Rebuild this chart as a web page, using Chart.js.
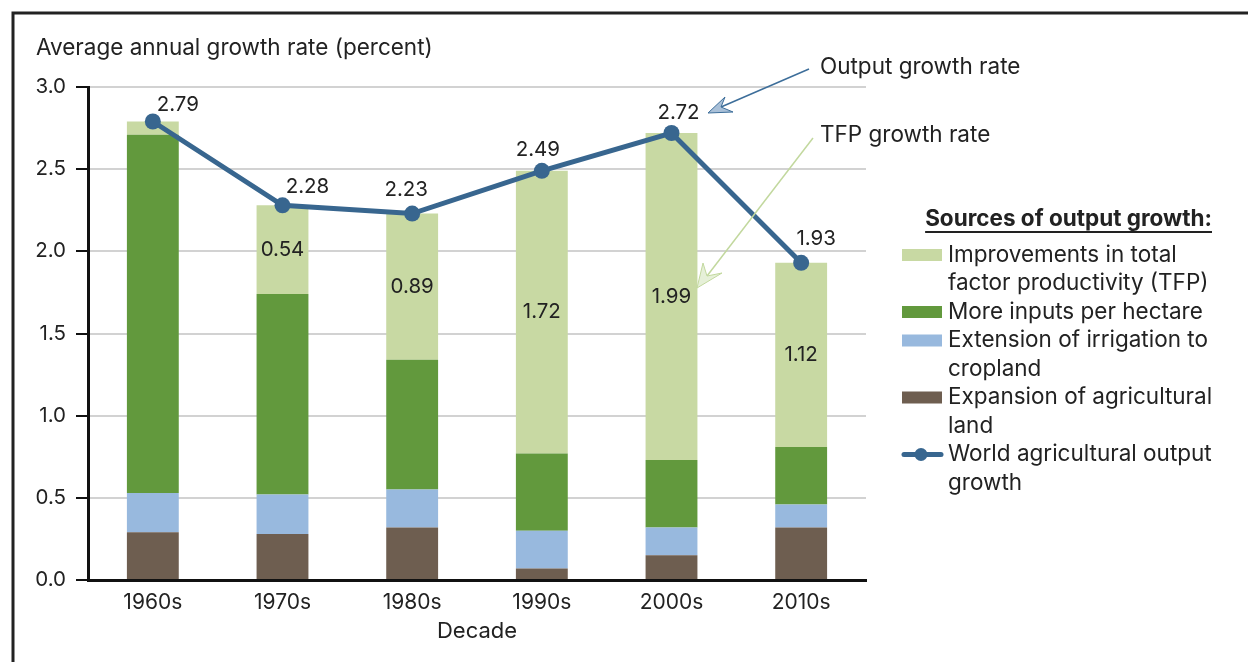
<!DOCTYPE html>
<html>
<head>
<meta charset="utf-8">
<script src="https://cdn.jsdelivr.net/npm/chart.js@4.4.0/dist/chart.umd.min.js"></script>
<style>
  html, body { margin: 0; padding: 0; background: #fff; }
  #wrap { width: 1248px; height: 662px; position: relative; }
</style>
</head>
<body>
<div id="wrap"><canvas id="growth"></canvas></div>
<script>
// values (percent per year)
const decades = ['1960s', '1970s', '1980s', '1990s', '2000s', '2010s'];
const landExpansion = [0.29, 0.28, 0.32, 0.07, 0.15, 0.32];
const irrigation = [0.24, 0.24, 0.23, 0.23, 0.17, 0.14];
const moreInputs = [2.18, 1.22, 0.79, 0.47, 0.41, 0.35];
const tfpGrowth = [0.08, 0.54, 0.89, 1.72, 1.99, 1.12];
const outputGrowth = [2.79, 2.28, 2.23, 2.49, 2.72, 1.93];
const yTicks = [0, 0.5, 1.0, 1.5, 2.0, 2.5, 3.0];

const legendTitle = 'Sources of output growth:';
const legendLabels = [
  ['Improvements in total', 'factor productivity (TFP)'],
  ['More inputs per hectare'],
  ['Extension of irrigation to', 'cropland'],
  ['Expansion of agricultural', 'land'],
  ['World agricultural output', 'growth']
];

const FONT = 'Inter, "Noto Sans", "DejaVu Sans", sans-serif';
const TXT = '#222';
const colTfp = '#c8d9a3';
const colInputs = '#62993d';
const colIrr = '#98b9de';
const colLand = '#6e5e50';
const colLine = '#38668f';

Chart.defaults.font.family = FONT;
Chart.defaults.font.size = 20;
Chart.defaults.color = TXT;

//==============================================================
// frame, titles, legend, arrows and value labels
const extras = {
  id: 'extras',
  beforeDraw(chart) {
    const ctx = chart.ctx;
    ctx.save();
    ctx.strokeStyle = '#222';
    ctx.lineWidth = 3;
    ctx.beginPath();
    ctx.moveTo(13, 662);
    ctx.lineTo(13, 13);
    ctx.lineTo(1248, 13);
    ctx.stroke();
    ctx.restore();
  },
  afterDraw(chart) {
    const ctx = chart.ctx;
    const area = chart.chartArea;
    ctx.save();
    ctx.fillStyle = TXT;
    ctx.textBaseline = 'middle';

    // axis titles
    ctx.font = '22.5px ' + FONT;
    ctx.textAlign = 'left';
    ctx.fillText('Average annual growth rate (percent)', 36, 48);
    ctx.textAlign = 'center';
    ctx.font = '22px ' + FONT;
    ctx.fillText('Decade', (area.left + area.right) / 2, 631);

    // TFP labels inside the light-green segments
    ctx.font = '20.5px ' + FONT;
    const tfpMeta = chart.getDatasetMeta(3);
    tfpMeta.data.forEach((el, i) => {
      if (tfpGrowth[i] < 0.2) return;
      ctx.fillText(tfpGrowth[i].toFixed(2), el.x, (el.y + el.base) / 2);
    });

    // output labels above the line points
    const shiftX = [25, 25, -6, -4, 7, 15];
    const shiftY = [-17, -18, -24, -21, -20, -24];
    const lineMeta = chart.getDatasetMeta(4);
    lineMeta.data.forEach((pt, i) => {
      ctx.fillText(outputGrowth[i].toFixed(2), pt.x + shiftX[i], pt.y + shiftY[i]);
    });

    // annotations
    ctx.font = '22.5px ' + FONT;
    ctx.textAlign = 'left';
    ctx.fillText('Output growth rate', 820, 67);
    ctx.fillText('TFP growth rate', 820, 135);

    function arrow(x0, y0, tip, b1, notch, b2, line, fill) {
      ctx.strokeStyle = line;
      ctx.lineWidth = 1.5;
      ctx.beginPath();
      ctx.moveTo(x0, y0);
      ctx.lineTo(notch[0], notch[1]);
      ctx.stroke();
      ctx.beginPath();
      ctx.moveTo(tip[0], tip[1]);
      ctx.lineTo(b1[0], b1[1]);
      ctx.lineTo(notch[0], notch[1]);
      ctx.lineTo(b2[0], b2[1]);
      ctx.closePath();
      ctx.fillStyle = fill;
      ctx.fill();
      ctx.lineWidth = 1;
      ctx.stroke();
    }
    arrow(809, 69, [708, 113], [725, 97], [721, 107], [733, 112], '#3d6e9a', '#a9c0d8');
    arrow(813, 138, [697, 288], [703, 263], [707, 276], [722, 273], '#c2d89e', '#e6f0d8');

    // legend
    ctx.fillStyle = TXT;
    ctx.font = 'bold 22.5px ' + FONT;
    ctx.textAlign = 'right';
    ctx.fillText(legendTitle, 1212, 219);
    const tw = ctx.measureText(legendTitle).width;
    ctx.fillRect(1212 - tw, 231, tw, 2);

    ctx.font = '22.5px ' + FONT;
    ctx.textAlign = 'left';
    const swatches = [colTfp, colInputs, colIrr, colLand, null];
    let y = 255;
    legendLabels.forEach((lines, k) => {
      if (swatches[k]) {
        ctx.fillStyle = swatches[k];
        ctx.fillRect(902, y - 6, 40, 12);
      } else {
        ctx.strokeStyle = colLine;
        ctx.lineWidth = 5;
        ctx.lineCap = 'round';
        ctx.beginPath();
        ctx.moveTo(904, y);
        ctx.lineTo(941, y);
        ctx.stroke();
        ctx.fillStyle = colLine;
        ctx.beginPath();
        ctx.arc(921, y, 6.5, 0, Math.PI * 2);
        ctx.fill();
      }
      ctx.fillStyle = TXT;
      lines.forEach((t) => {
        ctx.fillText(t, 948, y);
        y += 28.5;
      });
    });
    ctx.restore();
  }
};
//==============================================================

const barBase = { type: 'bar', stack: 'sources', order: 1, borderWidth: 0 };

new Chart(document.getElementById('growth'), {
  type: 'bar',
  data: {
    labels: decades,
    datasets: [
      Object.assign({ label: 'Expansion of agricultural land', data: landExpansion, backgroundColor: colLand }, barBase),
      Object.assign({ label: 'Extension of irrigation to cropland', data: irrigation, backgroundColor: colIrr }, barBase),
      Object.assign({ label: 'More inputs per hectare', data: moreInputs, backgroundColor: colInputs }, barBase),
      Object.assign({ label: 'Improvements in total factor productivity (TFP)', data: tfpGrowth, backgroundColor: colTfp }, barBase),
      {
        type: 'line',
        label: 'World agricultural output growth',
        data: outputGrowth,
        stack: 'total',
        order: 0,
        borderColor: colLine,
        backgroundColor: colLine,
        borderWidth: 5,
        pointRadius: 8,
        pointBackgroundColor: colLine,
        pointBorderWidth: 0,
        fill: false,
        tension: 0
      }
    ]
  },
  options: {
    responsive: true,
    maintainAspectRatio: false,
    animation: false,
    events: [],
    barPercentage: 0.4,
    categoryPercentage: 1,
    layout: { padding: { left: 12, right: 382, top: 87, bottom: 0 } },
    plugins: { legend: { display: false }, tooltip: { enabled: false } },
    scales: {
      x: {
        stacked: true,
        grid: { display: false },
        border: { color: '#111', width: 3 },
        ticks: { padding: 2, color: TXT, font: { size: 21 } },
        afterFit: (scale) => { scale.height = 82; }
      },
      y: {
        stacked: true,
        min: 0,
        max: 3,
        afterBuildTicks: (scale) => { scale.ticks = yTicks.map((v) => ({ value: v })); },
        grid: { color: '#d2d2d2', lineWidth: 2, tickColor: '#111', tickLength: 12, drawTicks: true },
        border: { color: '#111', width: 3 },
        ticks: { padding: 10, color: TXT, font: { size: 20.5 }, callback: (v) => Number(v).toFixed(1) },
        afterFit: (scale) => { scale.width = 76; }
      }
    }
  },
  plugins: [extras]
});
</script>
</body>
</html>
